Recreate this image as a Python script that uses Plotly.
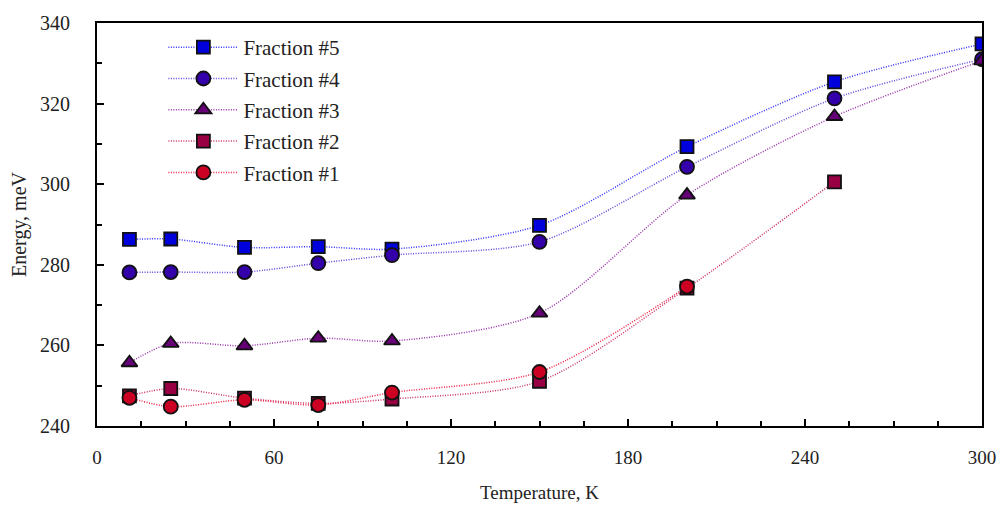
import plotly.graph_objects as go

temps = [11, 25, 50, 75, 100, 150, 200, 250, 300]
frac5 = [286.3, 286.4, 284.3, 284.5, 283.9, 289.8, 309.3, 325.4, 334.8]
frac4 = [278.1, 278.2, 278.2, 280.4, 282.4, 285.7, 304.3, 321.3, 331.0]
frac3 = [255.7, 260.5, 259.9, 261.8, 261.1, 268.0, 297.3, 316.8, 330.6]
frac2 = [247.5, 249.3, 246.9, 245.6, 246.7, 251.1, 274.2, 300.6]
frac1 = [247.0, 244.8, 246.5, 245.2, 248.3, 253.4, 274.6]

names = ["Fraction #5", "Fraction #4", "Fraction #3", "Fraction #2", "Fraction #1"]
series = [frac5, frac4, frac3, frac2, frac1]
symbols = ["square", "circle", "triangle-up", "square", "circle"]
fills = ["#0000dd", "#3300aa", "#660077", "#990044", "#cc0022"]
lines = ["#3333ff", "#6644dd", "#9933aa", "#cc3366", "#ee2244"]
sizes = [13, 14, 14, 13, 14]

FONT = "Liberation Serif"
TXT = "#222222"

fig = go.Figure()
for i, (n, ys) in enumerate(zip(names, series)):
    fig.add_trace(go.Scatter(
        x=temps[:len(ys)], y=ys, name=n, mode="lines+markers",
        legendgroup=n,
        line=dict(color=lines[i], width=1.5, dash="1px,1.5px", shape="spline", smoothing=0.8),
        marker=dict(symbol=symbols[i], size=sizes[i], color=fills[i],
                    line=dict(color="#111111", width=1.8)),
    ))

axis_common = dict(
    showline=True, linecolor="black", linewidth=2, mirror=True,
    ticks="inside", tickcolor="black", tickwidth=1.5, ticklen=7,
    showgrid=False, zeroline=False, automargin=False,
)

fig.update_xaxes(range=[0, 300], tick0=0, dtick=60,
                 minor=dict(dtick=15, ticks="inside", ticklen=5, tickcolor="black", tickwidth=1.5),
                 ticklabelstandoff=13,
                 tickfont=dict(family=FONT, size=19, color=TXT),
                 title=dict(text="Temperature, K", font=dict(family=FONT, size=19, color=TXT), standoff=19),
                 **axis_common)
fig.update_yaxes(range=[240, 340], tick0=240, dtick=20,
                 minor=dict(dtick=10, ticks="inside", ticklen=5, tickcolor="black", tickwidth=1.5),
                 ticklabelstandoff=21,
                 tickfont=dict(family=FONT, size=20, color=TXT),
                 title=dict(text="Energy, meV", font=dict(family=FONT, size=20, color=TXT), standoff=8),
                 **axis_common)

fig.update_layout(
    width=998, height=505,
    margin=dict(l=97, r=16, t=23, b=79),
    plot_bgcolor="white", paper_bgcolor="white",
    showlegend=True,
    legend=dict(x=0.075, y=0.99, xanchor="left", yanchor="top",
                font=dict(family=FONT, size=21, color=TXT),
                bgcolor="rgba(0,0,0,0)", traceorder="grouped", tracegroupgap=1,
                itemwidth=70),
)

fig.write_html("out.html", config={"displayModeBar": False},
               post_script="document.body.style.margin='0';")
